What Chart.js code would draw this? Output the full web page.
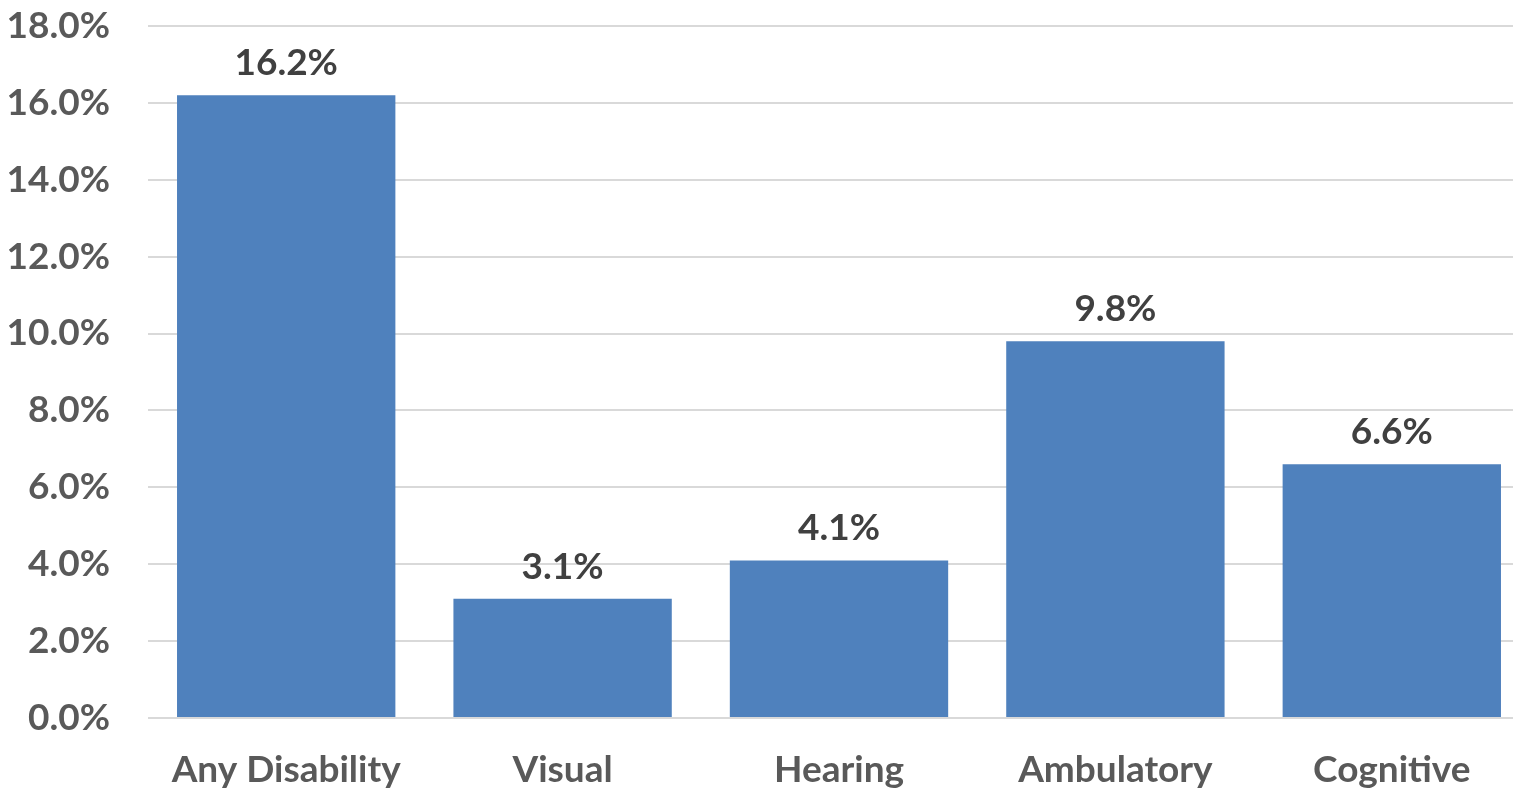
<!DOCTYPE html>
<html>
<head>
<meta charset="utf-8">
<script src="https://cdn.jsdelivr.net/npm/chart.js@4/dist/chart.umd.min.js"></script>
<style>
  html, body { margin: 0; padding: 0; background: #fff; overflow: hidden; }
  #wrap { width: 1530px; height: 791px; position: relative; }
</style>
</head>
<body>
<div id="wrap"><canvas id="chart"></canvas></div>
<script>
// -------- datos ----------
const categories = ["Any Disability", "Visual", "Hearing", "Ambulatory", "Cognitive"];
const values     = [16.2, 3.1, 4.1, 9.8, 6.6];
const yMin = 0, yMax = 18, yStep = 2;

const FONT = "Lato, 'Open Sans', sans-serif";
const FSIZE = 37;
const fmtPct = (v) => v.toFixed(1) + "%";

// etiquetas encima de cada barra
const barLabels = {
  id: "barLabels",
  afterDatasetsDraw(chart) {
    const { ctx } = chart;
    const meta = chart.getDatasetMeta(0);
    ctx.save();
    ctx.font = `bold ${FSIZE}px ${FONT}`;
    ctx.fillStyle = "#404040";
    ctx.textAlign = "center";
    ctx.textBaseline = "alphabetic";
    meta.data.forEach((bar, i) => {
      ctx.fillText(fmtPct(values[i]), bar.x, bar.y - 20);
    });
    ctx.restore();
  }
};

new Chart(document.getElementById("chart"), {
  type: "bar",
  data: {
    labels: categories,
    datasets: [{
      data: values,
      backgroundColor: "#4F81BD",
      borderWidth: 0,
      categoryPercentage: 0.79,
      barPercentage: 1.0
    }]
  },
  options: {
    responsive: true,
    maintainAspectRatio: false,
    animation: false,
    layout: { padding: { top: 26, right: 0, left: 0, bottom: 0 } },
    plugins: { legend: { display: false }, tooltip: { enabled: false } },
    scales: {
      x: {
        grid: { display: false, drawTicks: false },
        border: { display: false },
        ticks: {
          color: "#595959",
          font: { family: FONT, size: FSIZE, weight: "bold" },
          padding: 30
        },
        afterFit(scale) { scale.height = 73; }
      },
      y: {
        min: yMin, max: yMax,
        grid: { color: "#D9D9D9", lineWidth: 2, drawTicks: false },
        border: { display: false },
        ticks: {
          stepSize: yStep,
          color: "#595959",
          font: { family: FONT, size: FSIZE, weight: "bold" },
          padding: 38,
          callback: (v) => fmtPct(v)
        },
        afterFit(scale) {
          scale.width = 148;
          scale.paddingTop = 0;
          scale.paddingBottom = 0;
        }
      }
    }
  },
  plugins: [barLabels]
});
</script>
</body>
</html>
